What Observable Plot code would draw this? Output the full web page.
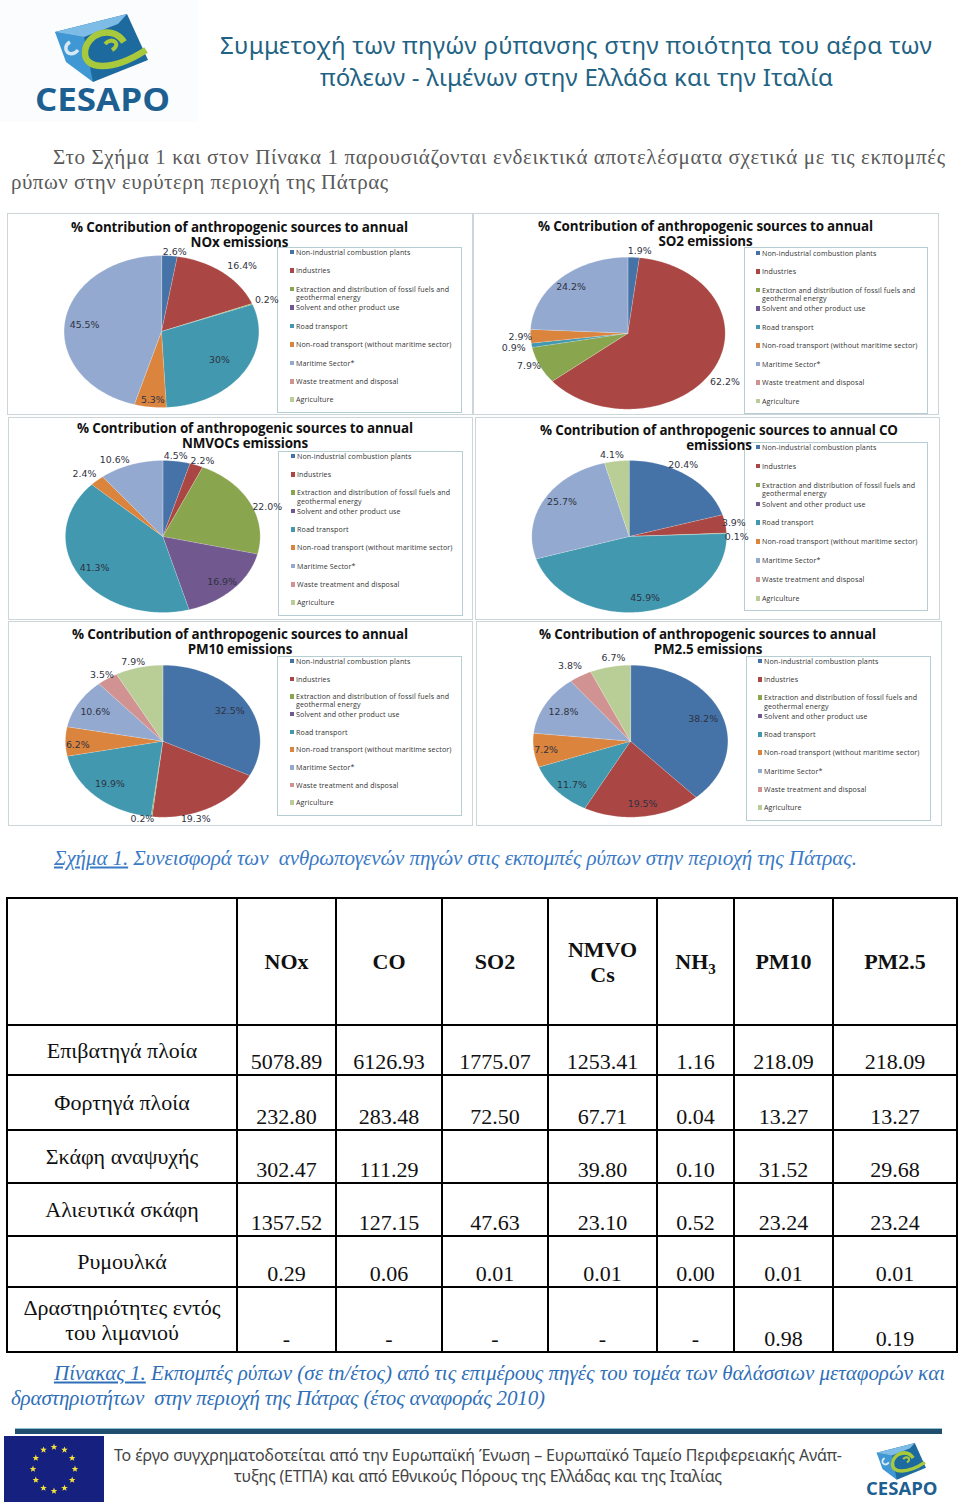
<!DOCTYPE html>
<html lang="el">
<head>
<meta charset="utf-8">
<title>CESAPO</title>
<script src="https://cdn.jsdelivr.net/npm/d3@7"></script>
<script src="https://cdn.jsdelivr.net/npm/@observablehq/plot@0.6"></script>
<style>
  html, body { margin: 0; padding: 0; background: #fff; }
  #page { position: relative; width: 960px; height: 1506px; overflow: hidden; background: #fff; }
  .abs { position: absolute; }
  .line { position: absolute; white-space: nowrap; transform: translateY(-50%); }
  .panel { position: absolute; box-sizing: border-box; border: 1.5px solid #ccd5d8; background: #fff; }
  .legend { position: absolute; box-sizing: border-box; border: 1.5px solid #b7cdd4; background: #fff; }
  .legrow { position: absolute; white-space: nowrap; font: 7.1px/8.3px "Open Sans", sans-serif; color: #333; letter-spacing: .12px; }
  .legkey { position: absolute; width: 4.5px; height: 4.5px; }
  table { position: absolute; border-collapse: collapse; table-layout: fixed; font-family: "Liberation Serif", serif; font-size: 22px; color: #111; }
  td, th { border: 2px solid #000; padding: 0; text-align: center; line-height: 25px; }
  td.v { vertical-align: bottom; }
  td.n { vertical-align: middle; }
  th { font-weight: bold; vertical-align: middle; }
  sub { font-size: 15px; line-height: 0; }
</style>
</head>
<body>
<div id="page"></div>
<script>
// ---------- data ----------
const sources = ["Non-industrial combustion plants","Industries","Extraction and distribution of fossil fuels and geothermal energy","Solvent and other product use","Road transport","Non-road transport (without maritime sector)","Maritime Sector*","Waste treatment and disposal","Agriculture"];
const sourceColors = ["#4572A7","#AA4643","#89A54E","#71588F","#4198AF","#DB843D","#93A9CF","#D19392","#B9CD96"];

const noxShares  = ["2.6","16.4","0.2","","30","5.3","45.5","",""];
const so2Shares  = ["1.9","62.2","7.9","","0.9","2.9","24.2","",""];
const nmvocShares= ["4.5","2.2","22.0","16.9","41.3","2.4","10.6","",""];
const coShares   = ["20.4","3.9","0.1","","45.9","","25.7","","4.1"];
const pm10Shares = ["32.5","19.3","0.2","","19.9","6.2","10.6","3.5","7.9"];
const pm25Shares = ["38.2","19.5","","","11.7","7.2","12.8","3.8","6.7"];

const tablePollutants = ["NOx","CO","SO2","NMVO<br>Cs","NH<sub>3</sub>","PM10","PM2.5"];
const tableRowNames = ["Επιβατηγά πλοία","Φορτηγά πλοία","Σκάφη αναψυχής","Αλιευτικά σκάφη","Ρυμουλκά","Δραστηριότητες εντός<br>του λιμανιού"];
const passengerShips = ["5078.89","6126.93","1775.07","1253.41","1.16","218.09","218.09"];
const cargoShips     = ["232.80","283.48","72.50","67.71","0.04","13.27","13.27"];
const leisureBoats   = ["302.47","111.29","","39.80","0.10","31.52","29.68"];
const fishingBoats   = ["1357.52","127.15","47.63","23.10","0.52","23.24","23.24"];
const tugBoats       = ["0.29","0.06","0.01","0.01","0.00","0.01","0.01"];
const portActivities = ["-","-","-","-","-","0.98","0.19"];

// ---------- layout ----------
const page = document.getElementById("page");
const panels = [
 {shares:noxShares, t1:"% Contribution of anthropogenic sources to annual", t2:"NOx emissions",
  box:[7,213,466,202], c:[161,331], title:[71,408,226.5,241.5,239.5],
  leg:[277,247,185,166,252,18.46,296],
  r:[1.057,1.194,1.16,0,.703,.903,.795,0,0], n:[2.7,5,0,0,-1,-1,-1.6,0,0]},
 {shares:so2Shares, t1:"% Contribution of anthropogenic sources to annual", t2:"SO2 emissions",
  box:[473,213,466,202], c:[627.3,332.7], title:[538,873,225.5,240.5,705.5],
  leg:[744,247,184,167,253,18.5,762],
  r:[1.095,1.186,1.10,0,1.187,1.104,.846,0,0], n:[3,4,2.3,0,0,0,0,0,0]},
 {shares:nmvocShares, t1:"% Contribution of anthropogenic sources to annual", t2:"NMVOCs emissions",
  box:[8,417,465,203], c:[162.3,536], title:[77,413,427.5,442.5,245],
  leg:[278,451,185,165,456,18.33,297],
  r:[1.069,1.077,1.141,.85,.816,1.148,1.122,0,0], n:[-1,2,6.3,.4,.4,-2,-7,0,0]},
 {shares:coShares, t1:"% Contribution of anthropogenic sources to annual CO", t2:"emissions",
  box:[475,417,465,203], c:[628.7,536], title:[540,898,429.5,444.5,719],
  leg:[744,442,184,169,447,18.9,762],
  r:[1.09,1.088,1.103,0,.827,0,.823,0,1.083], n:[-6.1,.5,3,0,-1.7,0,4,0,-2]},
 {shares:pm10Shares, t1:"% Contribution of anthropogenic sources to annual", t2:"PM10 emissions",
  box:[8,621,465,205], c:[162.3,740.7], title:[72,408,633.5,648.5,240],
  leg:[277,656,185,160,661,17.7,296],
  r:[.793,1.072,1.04,0,.779,.874,.792,1.07,1.086], n:[1.6,10,5,0,1.4,-3,-1,-1,-2]},
 {shares:pm25Shares, t1:"% Contribution of anthropogenic sources to annual", t2:"PM2.5 emissions",
  box:[476,621,466,205], c:[630,740.7], title:[539,876,633.5,648.5,708],
  leg:[746,656,185,165,661,18.33,764],
  r:[.8,.839,0,0,.833,.875,.788,1.173,1.111], n:[0,-1.3,0,0,-2.8,-1,0,-1,3]}
];
const RX = 97.4, RY = 76;

function put(html, x0, x1, yc, css) {
  const d = document.createElement("div");
  d.className = "line";
  d.innerHTML = html;
  d.style.cssText = `left:${x0}px;top:${yc}px;` + css;
  page.appendChild(d);
  if (x1 != null) {
    const w = d.getBoundingClientRect().width;
    const n = d.textContent.length;
    d.style.letterSpacing = ((x1 - x0 - w) / (n - 1)).toFixed(3) + "px";
  }
  return d;
}

function pieChart(p) {
  const values = p.shares.map(s => s === "" ? 0 : +s);
  const arcs = d3.pie().sort(null).startAngle(0).endAngle(2 * Math.PI)(values);
  const outline = [], labels = [];
  arcs.forEach((a, i) => {
    if (!a.value) return;
    outline.push({source: sources[i], x: 0, y: 0});
    const steps = Math.max(2, Math.ceil((a.endAngle - a.startAngle) * 60));
    d3.range(steps + 1).forEach(k => {
      const t = a.startAngle + (a.endAngle - a.startAngle) * k / steps;
      outline.push({source: sources[i], x: Math.sin(t), y: Math.cos(t)});
    });
    const mid = (a.startAngle + a.endAngle) / 2 + p.n[i] * Math.PI / 180;
    labels.push({x: p.r[i] * Math.sin(mid), y: p.r[i] * Math.cos(mid), text: p.shares[i] + "%"});
  });
  const [bx, by, bw, bh] = p.box, [cx, cy] = p.c;
  return Plot.plot({
    width: bw, height: bh, margin: 0,
    x: {axis: null, domain: [-1, 1], range: [cx - bx - RX, cx - bx + RX]},
    y: {axis: null, domain: [-1, 1], range: [cy - by + RY, cy - by - RY]},
    color: {domain: sources, range: sourceColors},
    style: {background: "transparent", overflow: "visible"},
    marks: [
      Plot.line(outline, {x: "x", y: "y", z: "source", fill: "source", curve: "linear-closed",
        stroke: "#ffffff", strokeOpacity: .35, strokeWidth: .6}),
      Plot.text(labels, {x: "x", y: "y", text: "text", fontSize: 9.4, fontFamily: "DejaVu Sans", fill: "#2f3242"})
    ]
  });
}

function logo(x, y, sx, sy) {
  return `<svg class="abs" style="left:0;top:0" width="960" height="1506" viewBox="0 0 960 1506">
  <g transform="translate(${x} ${y}) scale(${sx} ${sy})">
    <polygon points="55,32 127,14 148,60 93,82" fill="#1c6a9e"/>
    <polygon points="55,32 84,37 93,82 66,62" fill="#3f97d4"/>
    <polygon points="55,32 127,14 118,24 84,37" fill="#7dbce6"/>
    <path d="M70,42 C60,48 70,60 78,50" fill="none" stroke="#d7e8f5" stroke-width="3.5"/>
    <path d="M124,42 C112,24 86,34 85,52 C84,70 112,72 146,50" fill="none" stroke="#a8c93c" stroke-width="6.5"/>
    <path d="M105,44 C112,36 122,44 112,50" fill="none" stroke="#a8c93c" stroke-width="4"/>
    <text x="35" y="111" font-family="Open Sans" font-weight="700" font-size="33" textLength="135" lengthAdjust="spacingAndGlyphs" fill="#1e5f92">CESAPO</text>
  </g></svg>`;
}

// ---------- header ----------
const logoBg = document.createElement("div");
logoBg.className = "abs";
logoBg.style.cssText = "left:0;top:0;width:198px;height:122px;background:#fbfcfd";
page.appendChild(logoBg);
page.insertAdjacentHTML("beforeend", logo(0, 0, 1, 1));

const headCss = 'font:24px "Noto Sans",sans-serif;color:#1f6384;';
put("Συμμετοχή των πηγών ρύπανσης στην ποιότητα του αέρα των", 220, 932, 44, headCss);
put("πόλεων - λιμένων στην Ελλάδα και την Ιταλία", 320, 833, 76, headCss);
const introCss = 'font:21px "Liberation Serif",serif;color:#5a5a5a;';
put("Στο Σχήμα 1 και στον Πίνακα 1 παρουσιάζονται ενδεικτικά αποτελέσματα σχετικά με τις εκπομπές", 53, 945, 157, introCss);
put("ρύπων στην ευρύτερη περιοχή της Πάτρας", 11, 388, 181.5, introCss);

// ---------- panels ----------
panels.forEach(p => {
  const [bx, by, bw, bh] = p.box;
  const panel = document.createElement("div");
  panel.className = "panel";
  panel.style.cssText = `left:${bx}px;top:${by}px;width:${bw}px;height:${bh}px`;
  page.appendChild(panel);

  const [lx, ly, lw, lh, first, step, tx] = p.leg;
  const legend = document.createElement("div");
  legend.className = "legend";
  legend.style.cssText = `left:${lx}px;top:${ly}px;width:${lw}px;height:${lh}px`;
  page.appendChild(legend);
  sources.forEach((s, i) => {
    const yc = first + i * step;
    const key = document.createElement("div");
    key.className = "legkey";
    key.style.cssText = `left:${tx - 6.5}px;top:${yc - 2.2}px;background:${sourceColors[i]}`;
    page.appendChild(key);
    const row = document.createElement("div");
    row.className = "legrow";
    row.style.cssText = `left:${tx}px;top:${yc - 4.2}px`;
    row.innerHTML = i === 2 ? "Extraction and distribution of fossil fuels and<br>geothermal energy" : s;
    page.appendChild(row);
  });

  const holder = document.createElement("div");
  holder.className = "abs";
  holder.style.cssText = `left:${bx}px;top:${by}px;width:${bw}px;height:${bh}px`;
  holder.appendChild(pieChart(p));
  page.appendChild(holder);

  const [t0, t1, y1, y2, tc] = p.title;
  const titleCss = 'font:700 13.4px "Open Sans",sans-serif;color:#111;';
  put(p.t1, t0, t1, y1, titleCss);
  const second = put(p.t2, tc, null, y2, titleCss + "transform:translate(-50%,-50%);");
  second.style.letterSpacing = "-0.1px";
});

// ---------- captions ----------
const capCss = 'font:italic 21px "Liberation Serif",serif;color:#3a7ac6;';
put('<span style="text-decoration:underline">Σχήμα 1.</span> Συνεισφορά των&nbsp; ανθρωπογενών πηγών στις εκπομπές ρύπων στην περιοχή της Πάτρας.', 54, 857, 858, capCss);
const cap2Css = 'font:italic 21px "Liberation Serif",serif;color:#2f6fb8;';
put('<span style="text-decoration:underline">Πίνακας 1.</span> Εκπομπές ρύπων (σε tn/έτος) από τις επιμέρους πηγές του τομέα των θαλάσσιων μεταφορών και', 54, 945, 1373, cap2Css);
put('δραστηριοτήτων&nbsp; στην περιοχή της Πάτρας (έτος αναφοράς 2010)', 11, 545, 1398, cap2Css);

// ---------- table ----------
const colWidths = [230,99,106,106,109,77,99,124];
const rowHeights = [127,50,55,53,53,51,65];
const tableRows = [passengerShips,cargoShips,leisureBoats,fishingBoats,tugBoats,portActivities];
let html = `<colgroup>${colWidths.map(w => `<col style="width:${w}px">`).join("")}</colgroup>`;
html += `<tr style="height:${rowHeights[0]}px"><th></th>${tablePollutants.map(h => `<th>${h}</th>`).join("")}</tr>`;
tableRows.forEach((row, i) => {
  html += `<tr style="height:${rowHeights[i + 1]}px"><td class="n">${tableRowNames[i]}</td>${row.map(v => `<td class="v">${v}</td>`).join("")}</tr>`;
});
const table = document.createElement("table");
table.style.cssText = `left:6px;top:897px;width:${d3.sum(colWidths)}px`;
table.innerHTML = html;
page.appendChild(table);

// ---------- footer ----------
const bar = document.createElement("div");
bar.className = "abs";
bar.style.cssText = "left:15px;top:1428px;width:927px;height:5px;background:#1f4e6e;border-top:1px solid #8fbdd3";
page.appendChild(bar);

const starPts = "0,-3.4 0.9,-1.1 3.3,-1.1 1.4,0.4 2.1,2.8 0,1.4 -2.1,2.8 -1.4,0.4 -3.3,-1.1 -0.9,-1.1";
const stars = d3.range(12).map(i => {
  const t = i * Math.PI / 6;
  return `<polygon transform="translate(${54 + 21 * Math.sin(t)} ${1469 - 22 * Math.cos(t)})" points="${starPts}" fill="#f4e23a"/>`;
}).join("");
page.insertAdjacentHTML("beforeend", `<svg class="abs" style="left:0;top:0" width="960" height="1506" viewBox="0 0 960 1506"><rect x="4" y="1436" width="100" height="66" fill="#16207f"/>${stars}</svg>`);

const footCss = 'font:16px "Noto Sans",sans-serif;color:#444;';
put("Το έργο συγχρηματοδοτείται από την Ευρωπαϊκή Ένωση – Ευρωπαϊκό Ταμείο Περιφερειακής Ανάπ-", 114, 842, 1455, footCss);
put("τυξης (ΕΤΠΑ) και από Εθνικούς Πόρους της Ελλάδας και της Ιταλίας", 234, 722, 1476, footCss);
page.insertAdjacentHTML("beforeend", logo(847.5, 1435.4, .53, .54));
</script>
</body>
</html>
